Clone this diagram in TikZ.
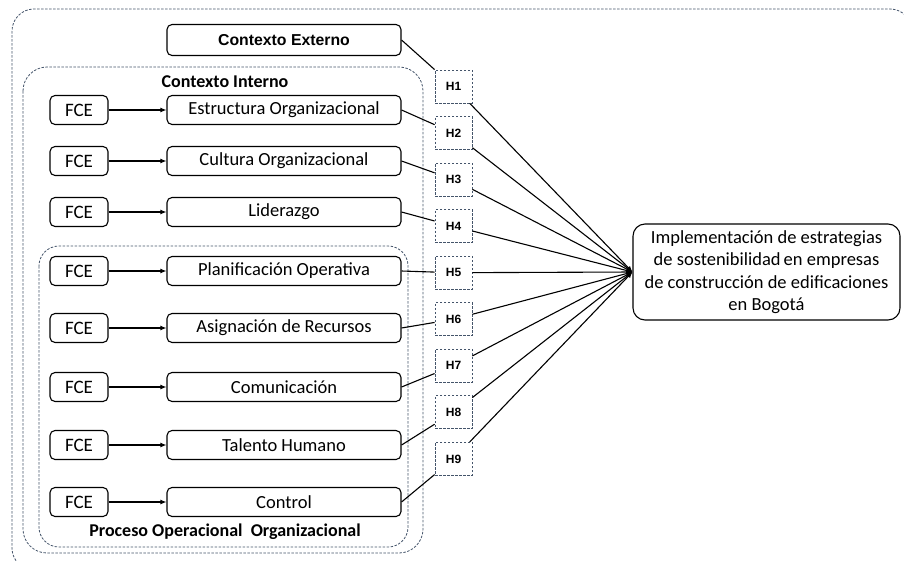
\documentclass[tikz,border=0pt]{standalone}
\usepackage{fontspec}
\setmainfont{Carlito}
\newfontfamily\arialf{Liberation Sans}
\usetikzlibrary{arrows.meta}
\definecolor{zoneblue}{HTML}{44546A}
\tikzset{
  box/.style={draw=black, line width=1.1pt, rounded corners=5pt, inner sep=0pt,
    minimum height=29pt, font=\fontsize{18.5}{21}\selectfont},
  fce/.style={box, minimum width=58pt, font=\fontsize{19}{21}\selectfont},
  factor/.style={box, minimum width=234pt},
  hyp/.style={draw=zoneblue, line width=0.8pt, dash pattern=on 2.5pt off 1.5pt,
    minimum width=37pt, minimum height=33pt, inner sep=0pt,
    font=\arialf\bfseries\fontsize{12}{14}\selectfont},
  zone/.style={draw=zoneblue, line width=0.8pt, dash pattern=on 2.5pt off 1.5pt},
  link/.style={line width=1.1pt},
  feed/.style={line width=1.1pt, -{Latex[length=6pt,width=5pt]}},
  zonelabel/.style={font=\bfseries\fontsize{18}{20}\selectfont, inner sep=0pt}
}
\begin{document}
\begin{tikzpicture}[x=1pt,y=-1pt]
\useasboundingbox (0,0) rectangle (904,560);

% outer frame (runs past the page edges on the right and bottom)
\draw[zone, rounded corners=22pt] (12,9) rectangle (912,570);
% internal context and operational process zones
\draw[zone, rounded corners=24pt] (23,67) rectangle (423,553);
\draw[zone, rounded corners=20pt] (39,246) rectangle (408,547);

\node[zonelabel] (lblint) at (225,82) {Contexto Interno};
\node[zonelabel] (lblproc) at (225,532) {Proceso Operacional\ \ Organizacional};

% external context
\node[box, minimum width=234pt, minimum height=31pt, font=\arialf\bfseries\fontsize{15.8}{18}\selectfont] (ext) at (284,40) {Contexto Externo};

% factors with their critical success factors
\foreach \n/\y/\t in {f1/110/Estructura Organizacional, f2/161/Cultura Organizacional,
    f3/212/Liderazgo, f4/271/Planificación Operativa, f5/328/Asignación de Recursos,
    f6/387/Comunicación, f7/445/Talento Humano, f8/502/Control}{
  \node[fce] (c\n) at (79,\y) {FCE};
  \node[factor] (\n) at (284,\y) {\t};
  \draw[feed] (c\n.east) -- (\n.west);
}

% hypotheses
\foreach \i in {1,...,9}{
  \node[hyp] (h\i) at (453.5,{86.5+46.55*(\i-1)}) {H\i};
}

% outcome
\node[box, minimum width=267pt, minimum height=96pt, rounded corners=12pt, align=center,
  font=\fontsize{18.5}{22.5}\selectfont] (tgt) at (766.5,272)
  {Implementación de estrategias\\de sostenibilidad\,en empresas\\de construcción de edificaciones\\en Bogotá};

% factor -> hypothesis
\draw[link] (ext.east) -- (h1);
\draw[link] (f1.east) -- (h2);
\draw[link] (f2.east) -- (h3);
\draw[link] (f3.east) -- (h4);
\draw[link] (f4.east) -- (h5);
\draw[link] (f5.east) -- (h6);
\draw[link] (f6.east) -- (h7);
\draw[link] (f7.east) -- (h8);
\draw[link] (f8.east) -- (h9);

% hypothesis -> outcome
\foreach \i in {1,...,9}{
  \draw[feed] (h\i) -- (tgt.west);
}
\end{tikzpicture}
\end{document}
